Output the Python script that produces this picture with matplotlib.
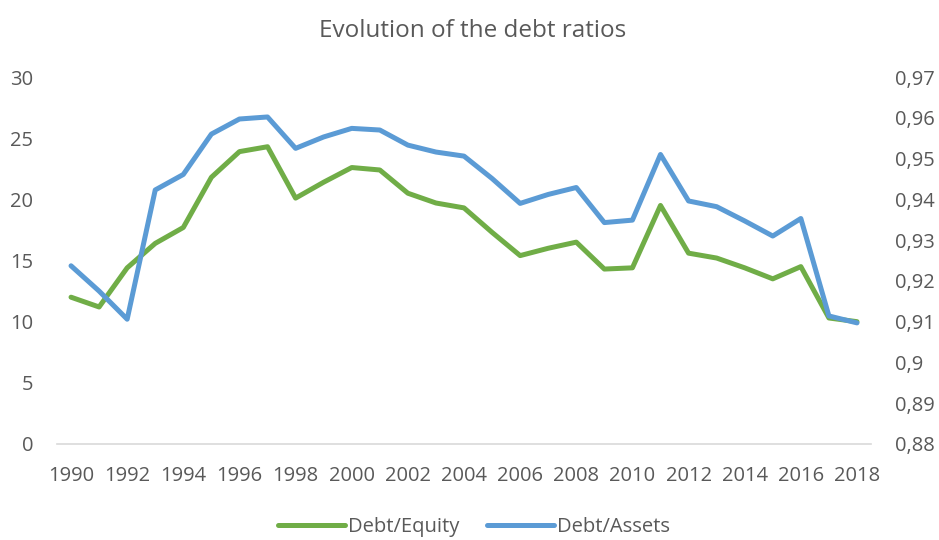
import matplotlib
matplotlib.use("Agg")
import matplotlib.pyplot as plt
from matplotlib.ticker import FuncFormatter

years = list(range(1990, 2019))
debt_equity = [12.0, 11.2, 14.4, 16.4, 17.7, 21.8, 23.9, 24.3, 20.1, 21.4, 22.6,
               22.4, 20.5, 19.7, 19.3, 17.3, 15.4, 16.0, 16.5, 14.3, 14.4,
               19.5, 15.6, 15.2, 14.4, 13.5, 14.5, 10.3, 10.0]
debt_assets = [0.9237, 0.9175, 0.9106, 0.9423, 0.9461, 0.9560, 0.9597, 0.9602, 0.9525, 0.9553, 0.9574,
               0.9570, 0.9533, 0.9516, 0.9506, 0.9451, 0.9390, 0.9412, 0.9429, 0.9343, 0.9349,
               0.9510, 0.9396, 0.9382, 0.9347, 0.9310, 0.9353, 0.9114, 0.9097]
left_ticks = [0, 5, 10, 15, 20, 25, 30]
right_ticks = [0.88, 0.89, 0.90, 0.91, 0.92, 0.93, 0.94, 0.95, 0.96, 0.97]
x_ticks = list(range(1990, 2019, 2))

plt.rcParams['font.family'] = ['Open Sans', 'DejaVu Sans']
txt = '#595959'
green = '#70AD47'
blue = '#5B9BD5'

fig = plt.figure(figsize=(9.39, 5.4), dpi=100)
ax = fig.add_axes([0.0607, 0.1778, 0.8669, 0.6796])
ax2 = ax.twinx()

l1, = ax.plot(years, debt_equity, color=green, lw=3.6, solid_joinstyle='round', solid_capstyle='round', label='Debt/Equity')
l2, = ax2.plot(years, debt_assets, color=blue, lw=3.6, solid_joinstyle='round', solid_capstyle='round', label='Debt/Assets')

ax.set_xlim(1989.5, 2018.5)
ax.set_ylim(0, 30)
ax2.set_ylim(0.88, 0.97)
ax.set_yticks(left_ticks)
ax2.set_yticks(right_ticks)
ax.set_xticks(x_ticks)
ax.set_xticklabels([str(y) for y in x_ticks])

def comma(v, pos):
    s = ('%.2f' % v).rstrip('0').rstrip('.')
    return s.replace('.', ',')
ax2.yaxis.set_major_formatter(FuncFormatter(comma))

fs = 14.5
for a in (ax, ax2):
    for s in ('top', 'left', 'right', 'bottom'):
        a.spines[s].set_visible(False)
    a.tick_params(length=0, labelsize=fs, colors=txt)
ax.spines['bottom'].set_visible(True)
ax.spines['bottom'].set_color('#D9D9D9')
ax.spines['bottom'].set_linewidth(1.2)
ax.tick_params(axis='y', pad=17)
ax.tick_params(axis='x', pad=16)
ax2.tick_params(axis='y', pad=17)

fig.text(0.503, 0.942, 'Evolution of the debt ratios', ha='center', va='center', fontsize=17.5, color=txt)

leg = fig.legend(handles=[l1, l2], loc='center', bbox_to_anchor=(0.505, 0.024), ncol=2, frameon=False,
                 fontsize=fs, handlelength=3.3, columnspacing=1.4, handletextpad=0.15)
for t in leg.get_texts():
    t.set_color(txt)

fig.savefig('out.png', dpi=100)
